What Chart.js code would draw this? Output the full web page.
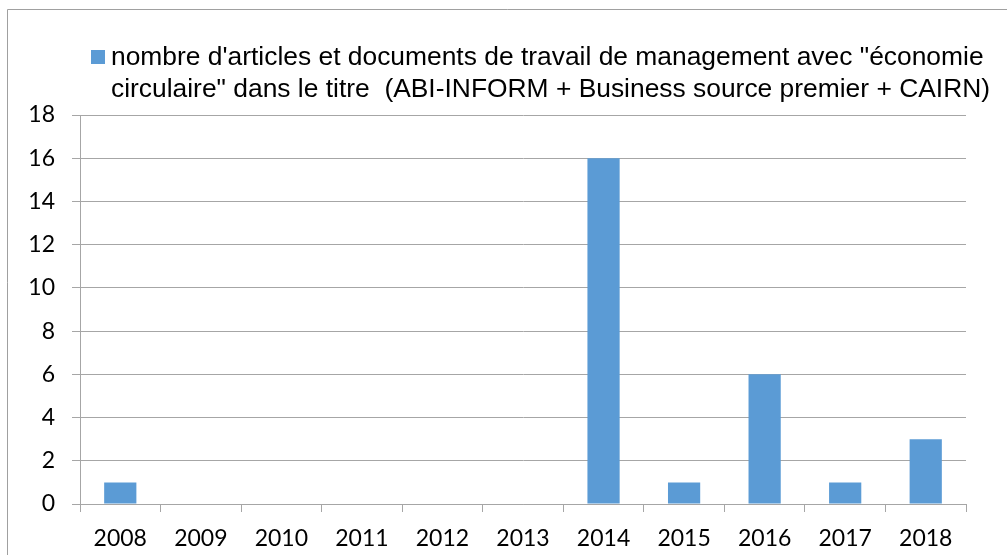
<!DOCTYPE html>
<html>
<head>
<meta charset="utf-8">
<script src="https://cdn.jsdelivr.net/npm/chart.js@4/dist/chart.umd.min.js"></script>
<style>
html,body{margin:0;padding:0;background:#fff;}
#wrap{position:relative;width:1007px;height:555px;}
</style>
</head>
<body>
<div id="wrap"><canvas id="c" width="1007" height="555"></canvas></div>
<script>
const categories = ['2008','2009','2010','2011','2012','2013','2014','2015','2016','2017','2018'];
const values = [1, 0, 0, 0, 0, 0, 16, 1, 6, 1, 3];
const seriesLabelLines = [
  "nombre d'articles et documents de travail de management avec \"économie",
  "circulaire\" dans le titre  (ABI-INFORM + Business source premier + CAIRN)"
];
const yTicks = [0, 2, 4, 6, 8, 10, 12, 14, 16, 18];

const barColor = '#5B9BD5';
const gridColor = '#A6A6A6';

const framePlugin = {
  id: 'frame',
  beforeDraw(chart) {
    const ctx = chart.ctx;
    ctx.save();
    ctx.fillStyle = '#fff';
    ctx.fillRect(0, 0, chart.width, chart.height);
    ctx.strokeStyle = '#A0A0A0';
    ctx.lineWidth = 1;
    ctx.beginPath();
    ctx.moveTo(7.5, chart.height);
    ctx.lineTo(7.5, 9.5);
    ctx.lineTo(chart.width, 9.5);
    ctx.stroke();
    ctx.restore();
  }
};

const legendPlugin = {
  id: 'customLegend',
  afterDraw(chart) {
    const ctx = chart.ctx;
    ctx.save();
    ctx.fillStyle = barColor;
    ctx.fillRect(91, 50, 14, 14);
    ctx.fillStyle = '#000';
    ctx.font = '26.4px "Liberation Sans", Arial, sans-serif';
    ctx.textBaseline = 'alphabetic';
    ctx.textAlign = 'left';
    seriesLabelLines.forEach((line, i) => {
      ctx.fillText(line, 111, 65 + i * 32);
    });
    ctx.restore();
  }
};

new Chart(document.getElementById('c'), {
  type: 'bar',
  data: {
    labels: categories,
    datasets: [{
      label: seriesLabelLines.join(' '),
      data: values,
      backgroundColor: barColor,
      borderWidth: 0,
      barPercentage: 0.4,
      categoryPercentage: 1.0
    }]
  },
  options: {
    responsive: false,
    animation: false,
    layout: { padding: { left: 0, right: 41, top: 115, bottom: 0 } },
    plugins: {
      legend: { display: false },
      tooltip: { enabled: false }
    },
    scales: {
      x: {
        grid: {
          display: true,
          drawOnChartArea: false,
          drawTicks: true,
          tickLength: 8,
          color: gridColor,
          offset: true
        },
        border: { display: true, color: gridColor, width: 1 },
        ticks: {
          color: '#000',
          font: { family: 'Lato, "Open Sans", sans-serif', size: 23 },
          padding: 13,
          maxRotation: 0
        },
        afterFit(scale) { scale.height = 51; }
      },
      y: {
        min: 0,
        max: 18,
        afterBuildTicks(scale) { scale.ticks = yTicks.map(v => ({ value: v })); },
        grid: {
          color: gridColor,
          tickLength: 8,
          drawTicks: true
        },
        border: { display: true, color: gridColor, width: 1 },
        ticks: {
          color: '#000',
          font: { family: 'Lato, "Open Sans", sans-serif', size: 23 },
          padding: 17
        },
        afterFit(scale) { scale.width = 80; }
      }
    }
  },
  plugins: [framePlugin, legendPlugin]
});
</script>
</body>
</html>
